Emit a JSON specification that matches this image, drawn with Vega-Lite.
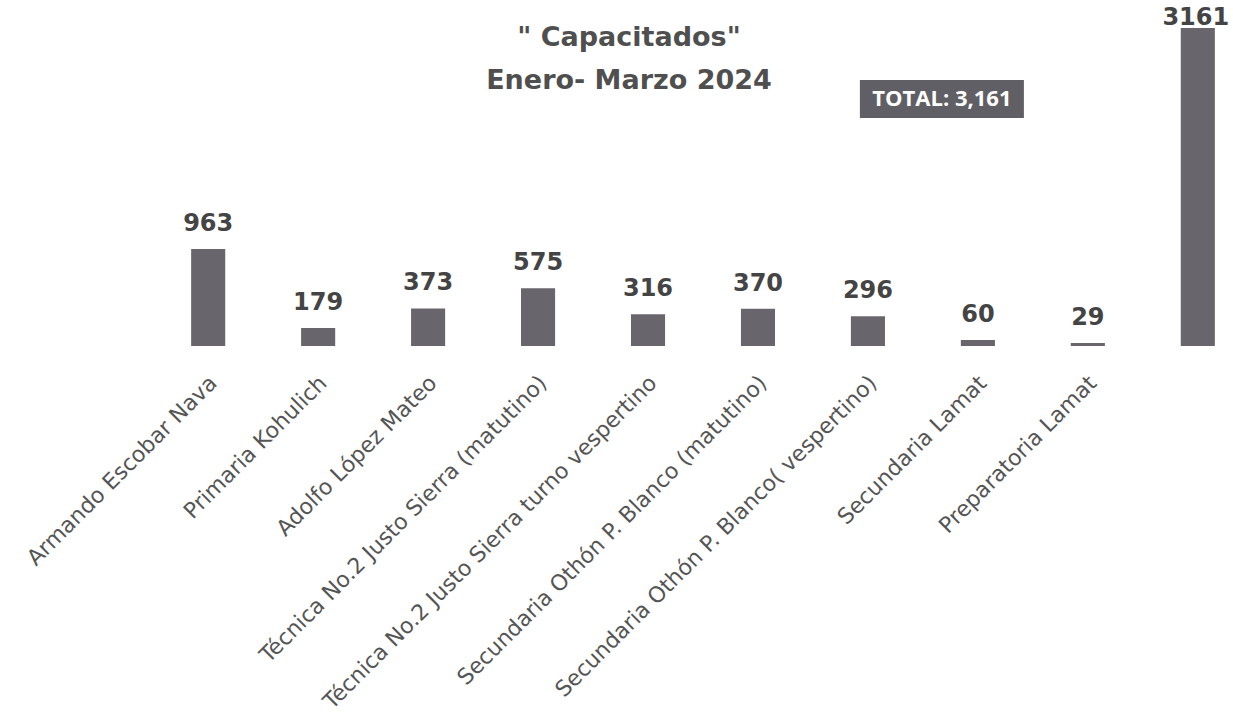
{
  "$schema": "https://vega.github.io/schema/vega-lite/v6.json",
  "width": 1060,
  "height": 318,
  "autosize": "none",
  "padding": {"left": 173, "top": 28, "right": 0, "bottom": 373},
  "background": "#ffffff",
  "config": {"view": {"stroke": null}},
  "title": {
    "text": ["\" Capacitados\"", "Enero- Marzo 2024"],
    "font": "DejaVu Sans",
    "fontSize": 27,
    "fontWeight": "bold",
    "color": "#4f4f4f",
    "anchor": "middle",
    "dx": -74,
    "baseline": "alphabetic",
    "lineHeight": 43,
    "offset": 0,
    "dy": 110
  },
  "data": {
    "values": [
      {"escuela": "Armando Escobar Nava", "capacitados": 963},
      {"escuela": "Primaria Kohulich", "capacitados": 179},
      {"escuela": "Adolfo López Mateo", "capacitados": 373},
      {"escuela": "Técnica No.2 Justo Sierra (matutino)", "capacitados": 575},
      {"escuela": "Técnica No.2 Justo Sierra turno vespertino", "capacitados": 316},
      {"escuela": "Secundaria Othón P. Blanco (matutino)", "capacitados": 370},
      {"escuela": "Secundaria Othón P. Blanco( vespertino)", "capacitados": 296},
      {"escuela": "Secundaria Lamat", "capacitados": 60},
      {"escuela": "Preparatoria Lamat", "capacitados": 29},
      {"escuela": "Total", "capacitados": 3161}
    ]
  },
  "layer": [
    {
      "mark": {"type": "bar", "color": "#68666c"},
      "encoding": {
        "x": {
          "field": "escuela", "type": "nominal", "sort": null,
          "scale": {
            "domain": ["Armando Escobar Nava", "Primaria Kohulich", "Adolfo López Mateo", "Técnica No.2 Justo Sierra (matutino)", "Técnica No.2 Justo Sierra turno vespertino", "Secundaria Othón P. Blanco (matutino)", "Secundaria Othón P. Blanco( vespertino)", "Secundaria Lamat", "Preparatoria Lamat", "Total"],
            "paddingInner": 0.69, "paddingOuter": 0.165
          },
          "axis": {
            "title": null, "domain": false, "ticks": false, "grid": false,
            "labelAngle": -45, "labelAlign": "right", "labelBaseline": "top",
            "labelPadding": 26, "labelOffset": -2,
            "labelFont": "DejaVu Sans", "labelFontSize": 22, "labelColor": "#555555",
            "labelLimit": 1000, "labelOverlap": false, "labelBound": false,
            "labelExpr": "datum.value == 'Total' ? '' : datum.value"
          }
        },
        "y": {"field": "capacitados", "type": "quantitative", "scale": {"domain": [0, 3161], "nice": false}, "axis": null}
      }
    },
    {
      "transform": [{"filter": "datum.escuela != 'Total'"}],
      "mark": {"type": "text", "font": "DejaVu Sans", "fontSize": 24, "fontWeight": "bold", "color": "#444444", "baseline": "alphabetic", "dy": -18},
      "encoding": {
        "x": {"field": "escuela", "type": "nominal", "sort": null},
        "y": {"field": "capacitados", "type": "quantitative"},
        "text": {"field": "capacitados", "type": "quantitative", "format": "d"}
      }
    },
    {
      "transform": [{"filter": "datum.escuela == 'Total'"}],
      "mark": {"type": "text", "font": "DejaVu Sans", "fontSize": 24, "fontWeight": "bold", "color": "#444444", "baseline": "alphabetic", "dy": -3, "dx": -2},
      "encoding": {
        "x": {"field": "escuela", "type": "nominal", "sort": null},
        "y": {"field": "capacitados", "type": "quantitative"},
        "text": {"field": "capacitados", "type": "quantitative", "format": "d"}
      }
    },
    {
      "data": {"values": [{"nota": "TOTAL: 3,161"}]},
      "mark": {"type": "bar", "color": "#615f66", "width": 164, "xOffset": -36},
      "encoding": {
        "x": {"datum": "Secundaria Lamat", "type": "nominal"},
        "y": {"datum": 2266, "type": "quantitative"},
        "y2": {"datum": 2644}
      }
    },
    {
      "data": {"values": [{"nota": "TOTAL: 3,161"}]},
      "mark": {"type": "text", "font": "Open Sans", "fontSize": 22, "fontWeight": "bold", "color": "#ffffff", "baseline": "middle", "dx": -36},
      "encoding": {
        "x": {"datum": "Secundaria Lamat", "type": "nominal"},
        "y": {"datum": 2455, "type": "quantitative"},
        "text": {"field": "nota", "type": "nominal"}
      }
    }
  ]
}
